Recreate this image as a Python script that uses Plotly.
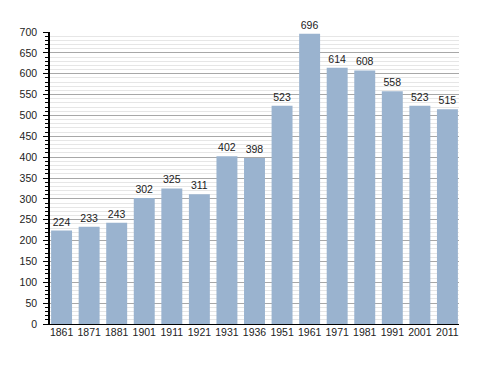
import plotly.graph_objects as go

years = ["1861", "1871", "1881", "1901", "1911", "1921", "1931", "1936",
         "1951", "1961", "1971", "1981", "1991", "2001", "2011"]
population = [224, 233, 243, 302, 325, 311, 402, 398, 523, 696, 614, 608, 558, 523, 515]
y_ticks = list(range(0, 701, 50))

fig = go.Figure(go.Bar(
    x=years, y=population,
    marker=dict(color="#9ab3cf", line=dict(width=0)),
    text=[str(v) for v in population], textposition="outside",
    textfont=dict(family="Liberation Sans, Arial", size=10.5, color="#222222"),
    cliponaxis=False,
))

fig.update_layout(
    width=488, height=373,
    margin=dict(l=42, r=37, t=24, b=57),
    paper_bgcolor="white", plot_bgcolor="white",
    bargap=0.24, showlegend=False,
    font=dict(family="Liberation Sans, Arial", size=10, color="#222222"),
)
fig.update_xaxes(
    type="category", range=[-0.42, 14.42], showgrid=False, showline=True,
    linecolor="black", linewidth=1, ticks="", tickfont=dict(size=10.5),
    ticklabelstandoff=-2,
)
fig.update_yaxes(
    range=[0, 700], tickvals=y_ticks, showline=True, linecolor="black", linewidth=1.5,
    ticks="outside", ticklen=5, tickcolor="black",
    gridcolor="#a8a8a8", gridwidth=1, zeroline=False,
    minor=dict(dtick=10, showgrid=True, gridcolor="#e6e6e6", gridwidth=1,
               ticks="outside", ticklen=3, tickcolor="black"),
    tickfont=dict(size=10.5), ticklabelstandoff=4,
)

fig.write_html("out.html")
